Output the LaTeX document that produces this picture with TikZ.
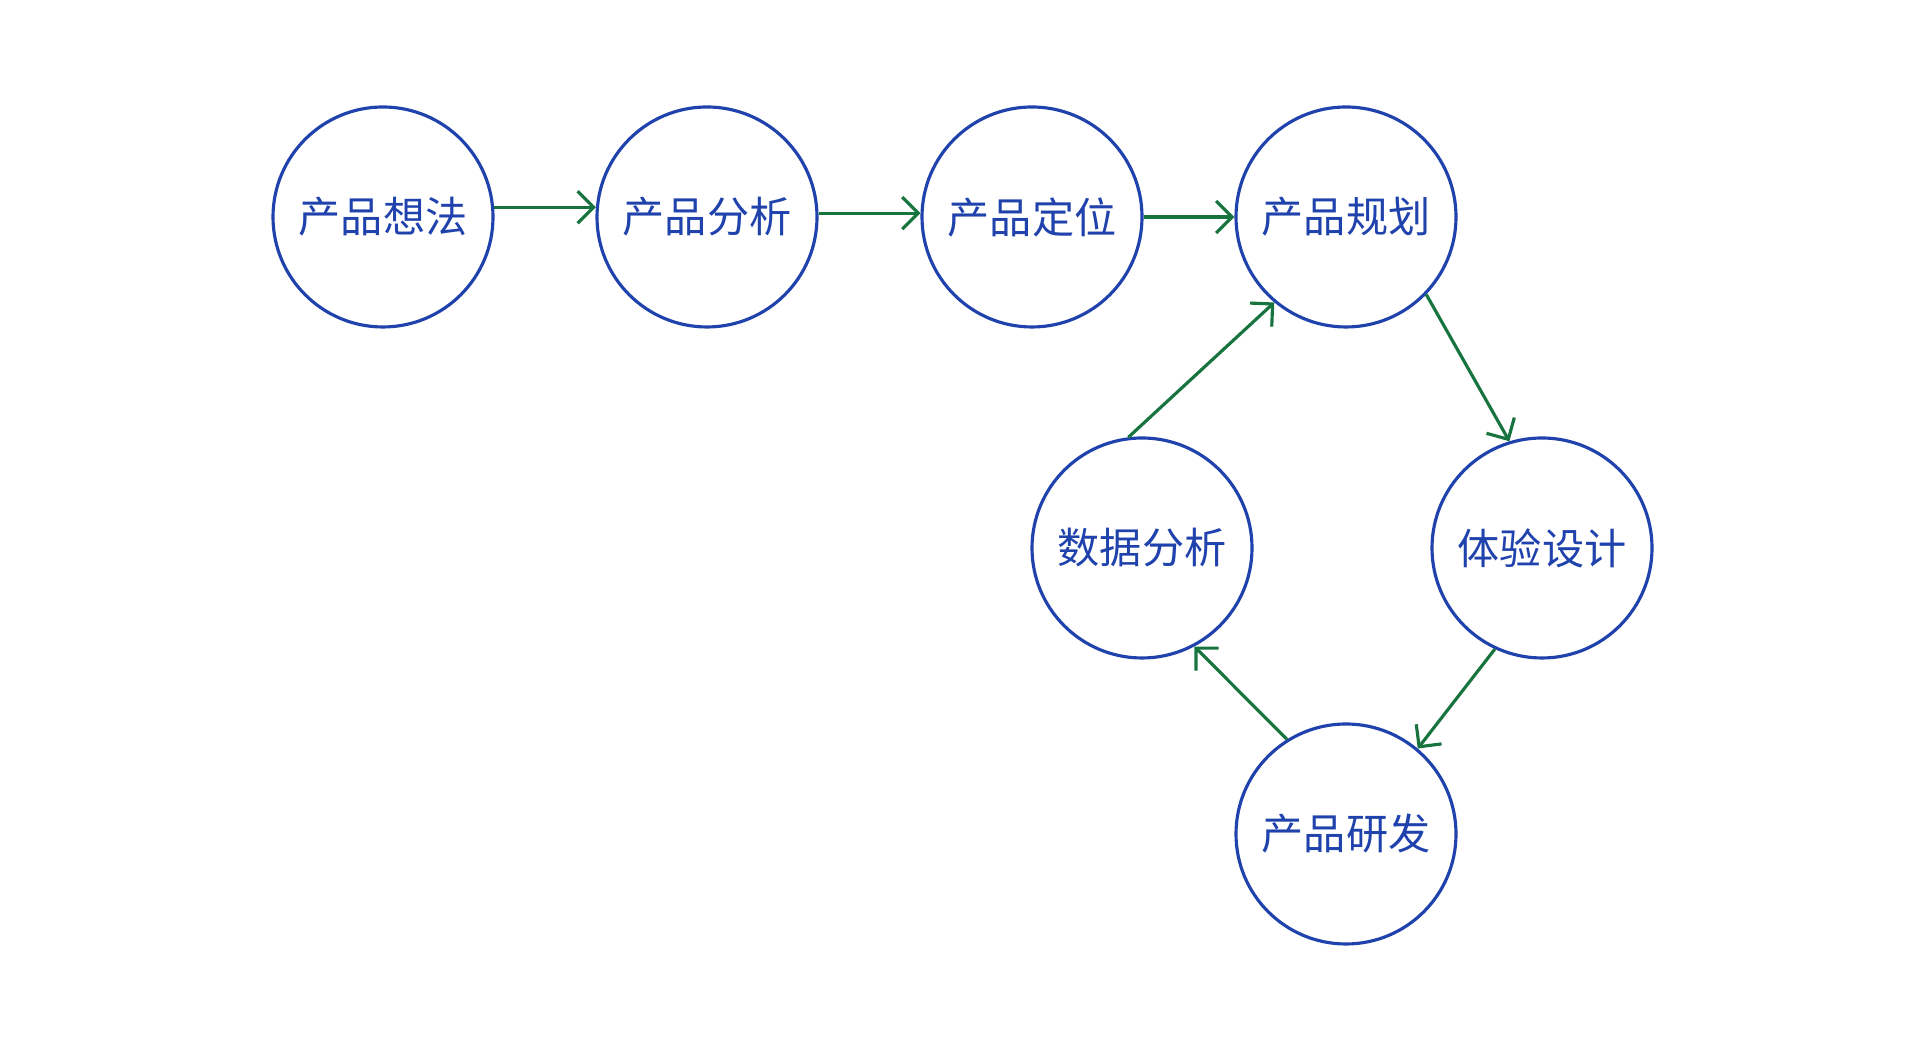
\documentclass[tikz,border=0pt]{standalone}
\usepackage{fontspec}
\usepackage{tikz}
\usetikzlibrary{arrows.meta,calc,positioning}
\newfontfamily\cjk{Noto Sans CJK SC}
\definecolor{stageblue}{RGB}{32,66,172}
\definecolor{flowgreen}{RGB}{24,116,62}

\begin{document}
\begin{tikzpicture}[
  stage/.style={circle,draw=stageblue,line width=0.9pt,minimum size=2.2cm,inner sep=0pt,
    text=stageblue,font=\cjk\fontsize{12}{14}\selectfont},
  flow/.style={draw=flowgreen,line width=0.9pt,-{Straight Barb[length=1.6mm,width=3.2mm]}}]
\useasboundingbox (0,0) rectangle (19.31,10.43);
%--- fila superiore ---
\node[stage] (idea) at (3.83,8.26) {产品想法};
\node[stage] (analysis) at (7.07,8.26) {产品分析};
\node[stage] (position) at (10.32,8.26) {产品定位};
\node[stage] (plan) at (13.46,8.26) {产品规划};
%--- ciclo ---
\node[stage] (design) at (15.42,4.95) {体验设计};
\node[stage] (develop) at (13.46,2.09) {产品研发};
\node[stage] (data) at (11.42,4.95) {数据分析};
% frecce
\draw[flow] (idea.5) -- (analysis.175);
\draw[flow] (analysis.2) -- (position.178);
\draw[flow] (position.0) -- (plan.180);
\draw[flow] (plan.-44) -- (design.107);
\draw[flow] (design.-115) -- (develop.50);
\draw[flow] (develop.122) -- (data.-62);
\draw[flow] (data.97) -- (plan.230);
\end{tikzpicture}
\end{document}
